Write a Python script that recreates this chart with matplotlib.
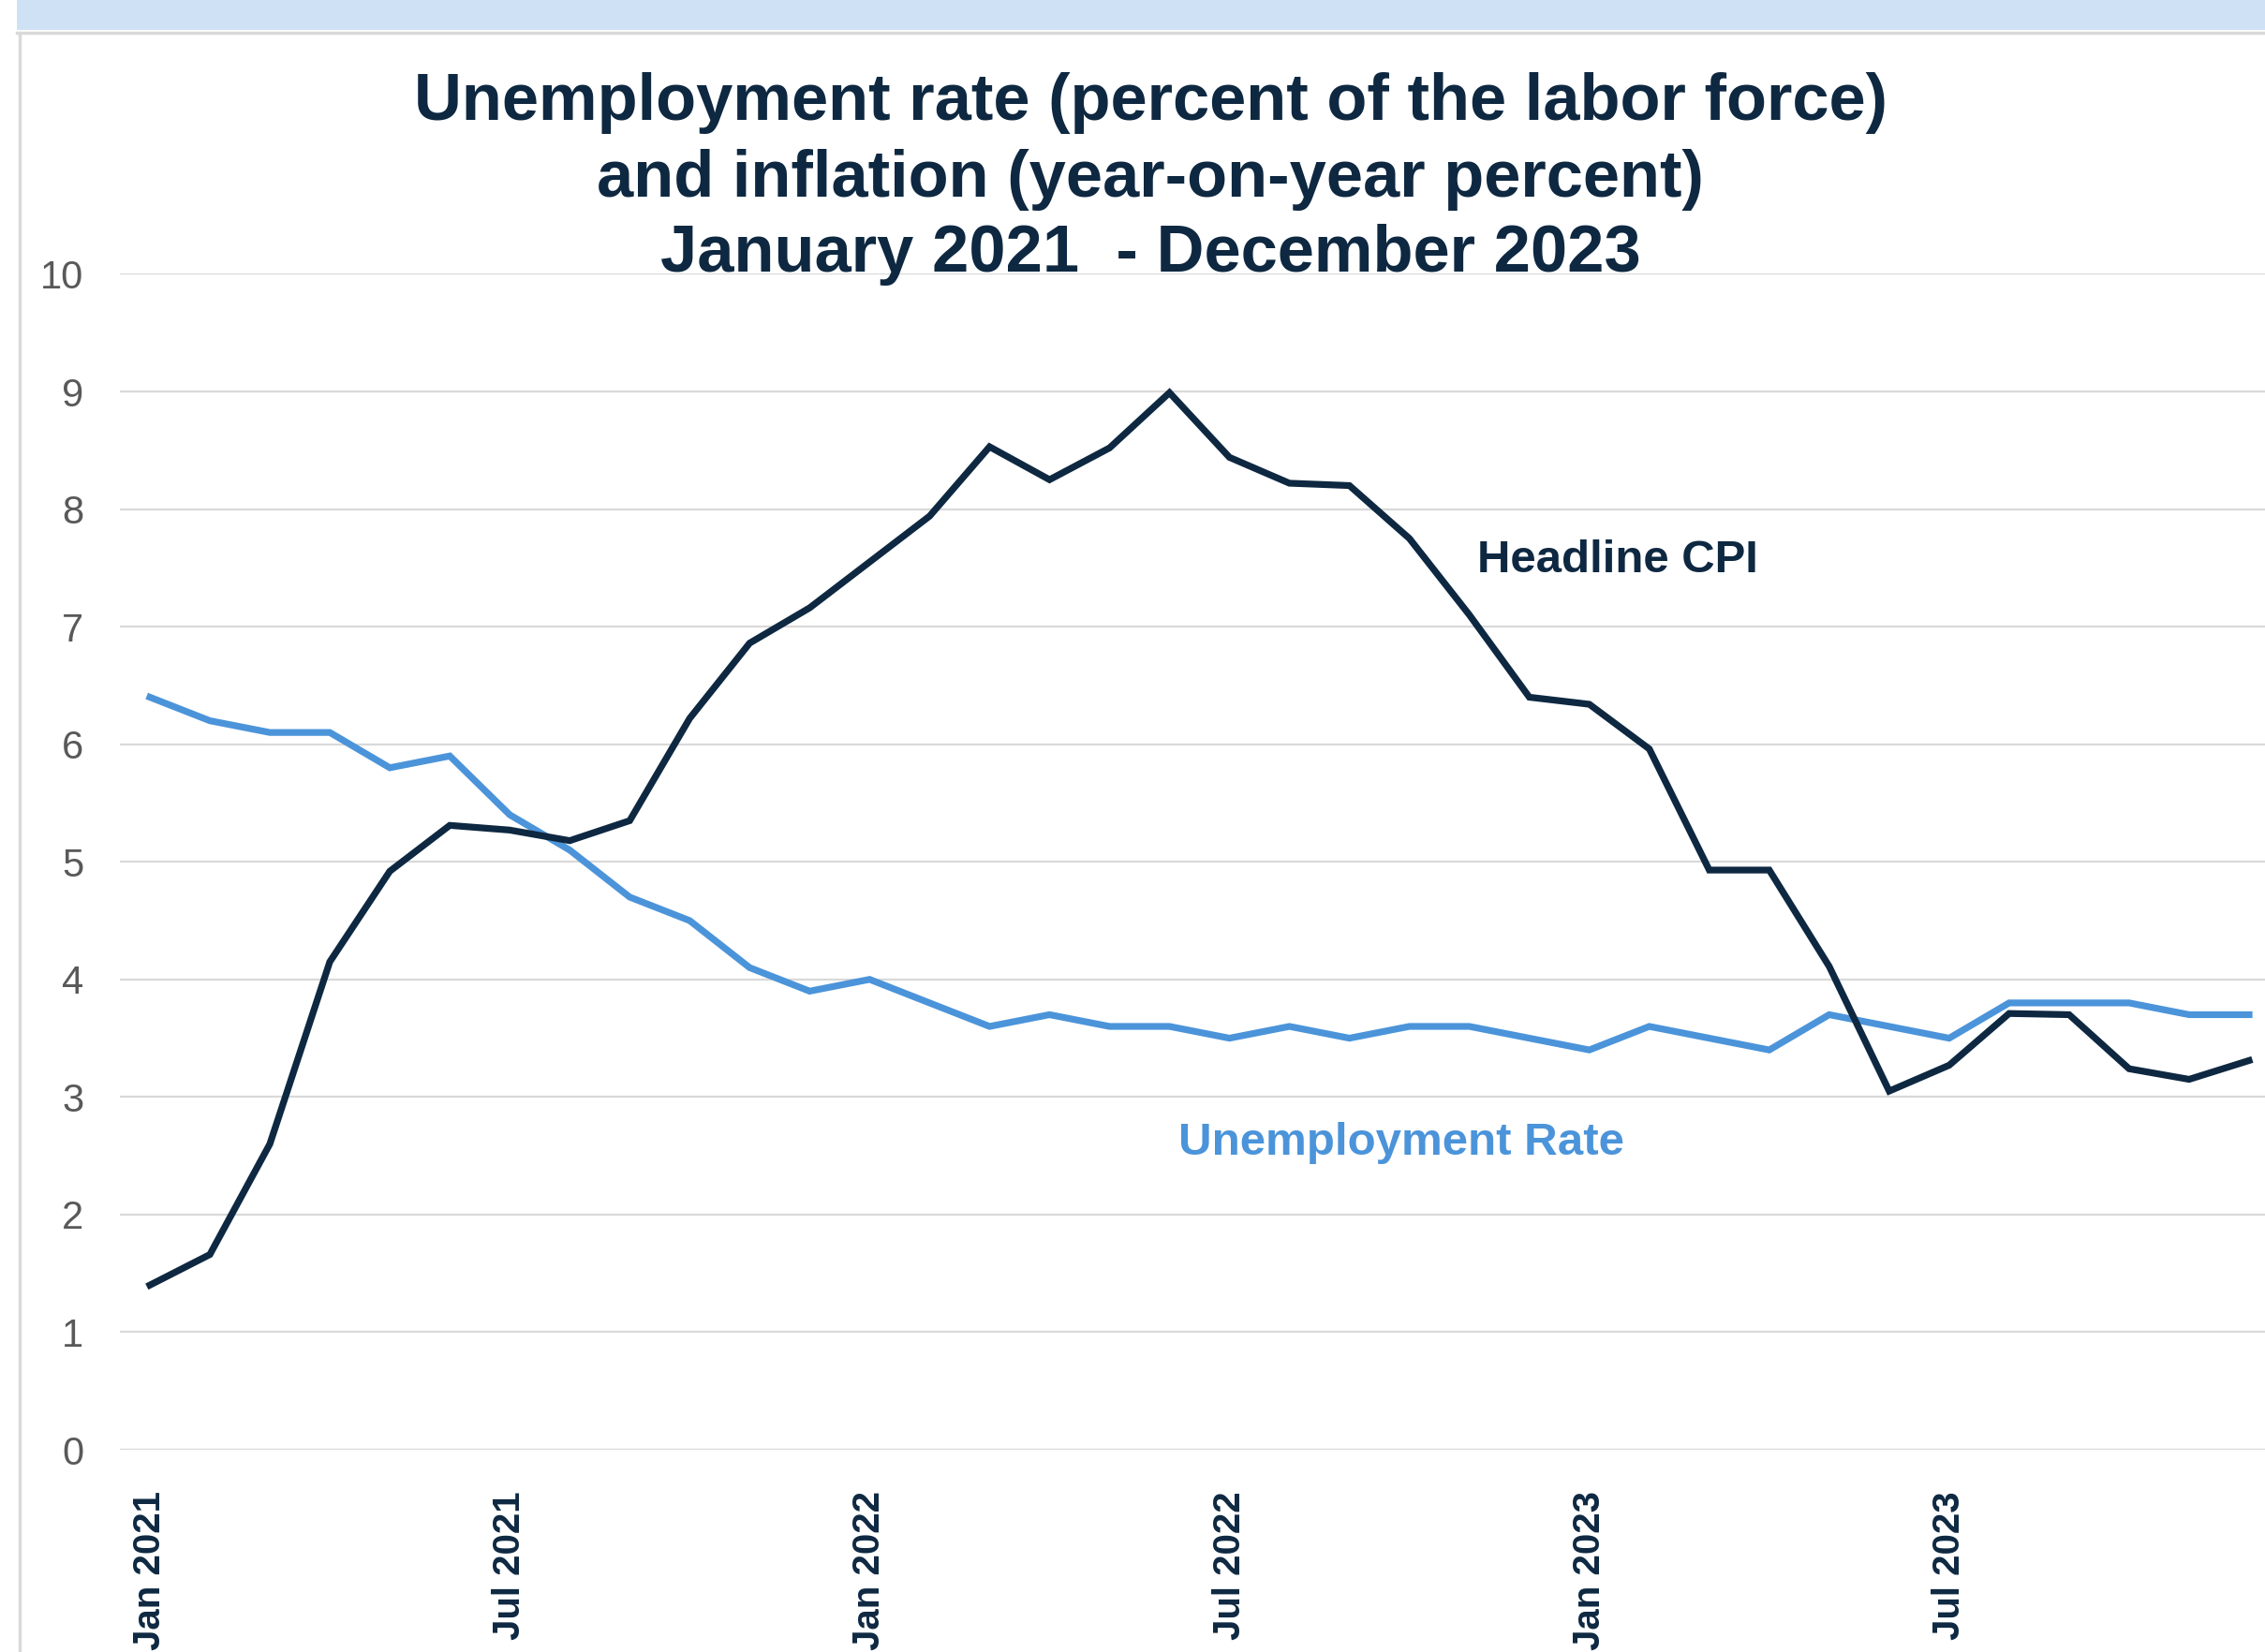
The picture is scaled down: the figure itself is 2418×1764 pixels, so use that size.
import matplotlib
matplotlib.use("Agg")
import matplotlib.pyplot as plt
from matplotlib.patches import Rectangle
from matplotlib.lines import Line2D

plt.rcParams["font.family"] = ["Liberation Sans", "DejaVu Sans"]

# Monthly series, January 2021 - December 2023
months = [f"{m} {y}" for y in (2021, 2022, 2023)
          for m in ("Jan", "Feb", "Mar", "Apr", "May", "Jun",
                    "Jul", "Aug", "Sep", "Oct", "Nov", "Dec")]
headline_cpi = [1.40, 1.66, 2.60, 4.15, 4.92, 5.31, 5.27, 5.18, 5.35, 6.22, 6.86, 7.16,
                7.55, 7.94, 8.53, 8.25, 8.52, 8.99, 8.44, 8.22, 8.20, 7.75, 7.10, 6.40,
                6.34, 5.96, 4.93, 4.93, 4.11, 3.05, 3.27, 3.71, 3.70, 3.24, 3.15, 3.31]
unemployment = [6.4, 6.2, 6.1, 6.1, 5.8, 5.9, 5.4, 5.1, 4.7, 4.5, 4.1, 3.9,
                4.0, 3.8, 3.6, 3.7, 3.6, 3.6, 3.5, 3.6, 3.5, 3.6, 3.6, 3.5,
                3.4, 3.6, 3.5, 3.4, 3.7, 3.6, 3.5, 3.8, 3.8, 3.8, 3.7, 3.7]
tick_months = ["Jan 2021", "Jul 2021", "Jan 2022", "Jul 2022", "Jan 2023", "Jul 2023"]
y_ticks = list(range(0, 11))

title_lines = ["Unemployment rate (percent of the labor force)",
               "and inflation (year-on-year percent)",
               "January 2021  - December 2023"]

NAVY = "#0E2841"
BLUE = "#4B94DA"
GRID = "#D9D9D9"

W, H = 2418, 1764
fig = plt.figure(figsize=(W / 100, H / 100), dpi=100)
fig.patch.set_facecolor("white")


def fx(px):
    return px / W


def fy(py):
    return 1 - py / H


# Header band and chart frame
fig.patches.append(Rectangle((fx(18), fy(32)), 1, 32 / H, transform=fig.transFigure,
                             facecolor="#CFE2F5", edgecolor="none", zorder=0))
fig.lines.append(Line2D([fx(18), 1.0], [fy(35), fy(35)], transform=fig.transFigure,
                        color=GRID, linewidth=2.5))
fig.lines.append(Line2D([fx(21), fx(21)], [fy(35), 0], transform=fig.transFigure,
                        color=GRID, linewidth=2.5))

# Plot area
left_px, right_px = 128, 2433
top_px, bottom_px = 292.5, 1548
ax = fig.add_axes([fx(left_px), fy(bottom_px), (right_px - left_px) / W,
                   (bottom_px - top_px) / H])
ax.set_facecolor("none")

x = list(range(len(months)))
ax.plot(x, unemployment, color=BLUE, linewidth=5.2, solid_joinstyle="miter", zorder=3)
ax.plot(x, headline_cpi, color=NAVY, linewidth=5.2, solid_joinstyle="miter", zorder=4)

ax.set_xlim(-0.5, len(months) - 0.5)
ax.set_ylim(0, 10)
ax.set_yticks(y_ticks)
ax.set_yticklabels([str(v) for v in y_ticks])
ax.set_xticks([months.index(m) for m in tick_months])
ax.set_xticklabels(tick_months, rotation=90, fontsize=29, fontweight="bold", color=NAVY)
ax.tick_params(axis="x", length=0, pad=32)
ax.tick_params(axis="y", length=0, pad=28, labelsize=30, labelcolor="#595959")
ax.grid(axis="y", color=GRID, linewidth=1.6)
ax.set_axisbelow(True)
for s in ax.spines.values():
    s.set_visible(False)

# Series labels
ax.text(22.13, 7.46, "Headline CPI", color=NAVY, fontsize=35.4, fontweight="bold",
        ha="left", va="baseline")
ax.text(17.15, 2.51, "Unemployment Rate", color=BLUE, fontsize=35.5, fontweight="bold",
        ha="left", va="baseline")

# Title
for line, base in zip(title_lines, (128, 210, 290)):
    fig.text(fx(1228), fy(base), line, ha="center", va="baseline", fontsize=50.8,
             fontweight="bold", color=NAVY)

fig.savefig("out.png", dpi=100)
